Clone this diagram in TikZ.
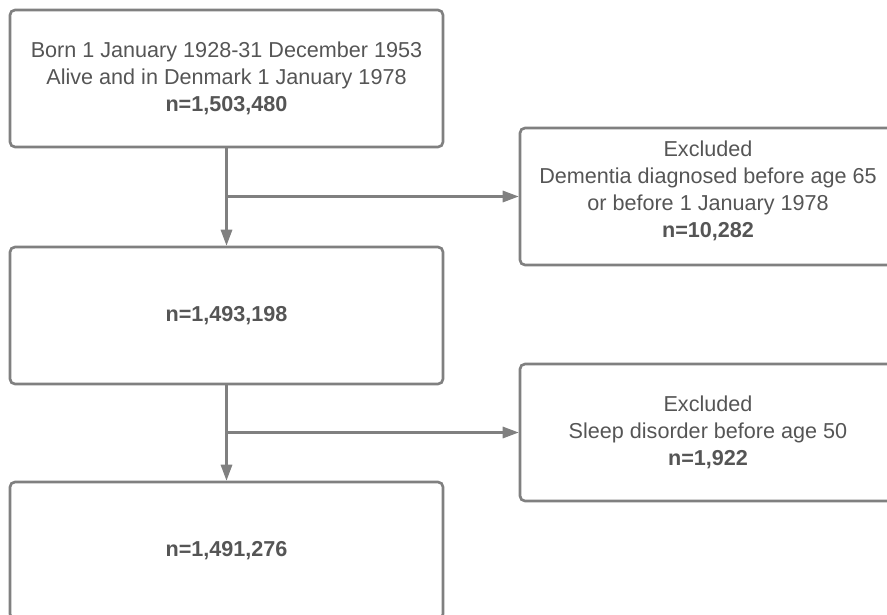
\documentclass[tikz,border=0pt]{standalone}
\usepackage{fontspec}
\setmainfont{Liberation Sans}
\usetikzlibrary{arrows.meta}
\definecolor{linegray}{HTML}{808080}
\definecolor{textgray}{HTML}{555555}
\tikzset{
  box/.style={draw=linegray, line width=2pt, rounded corners=3.75pt, minimum height=102.75pt, inner sep=0pt},
  leftbox/.style={box, minimum width=324.75pt},
  rightbox/.style={box, minimum width=282pt},
  txt/.style={text=textgray, align=center, font=\fontsize{16.2}{20.3}\selectfont},
  arr/.style={draw=linegray, line width=1.6pt, -{Triangle[length=12pt,width=8.5pt]}},
}
\begin{document}
\begin{tikzpicture}[x=0.75pt,y=-0.75pt]
\useasboundingbox (0,0) rectangle (887,614);
\clip (0,0) rectangle (887,614);
\node[leftbox, txt] (b1) at (226.5,78.5) {Born 1 January 1928-31 December 1953\\Alive and in Denmark 1 January 1978\\\textbf{n=1,503,480}};
\node[leftbox, txt] (b2) at (226.5,315.5) {\textbf{n=1,493,198}};
\node[leftbox, txt] (b3) at (226.5,550.5) {\textbf{n=1,491,276}};
\node[rightbox] (r1) at (708,196.5) {};
\node[txt] (r1t) at (708,190.5) {Excluded\\Dementia diagnosed before age 65\\or before 1 January 1978\\\textbf{n=10,282}};
\node[rightbox, txt] (r2) at (708,432.5) {Excluded\\Sleep disorder before age 50\\\textbf{n=1,922}};
\draw[arr] (b1.south) -- (b2.north);
\draw[arr] (b2.south) -- (b3.north);
\draw[arr] (b1.south |- r1.west) -- (r1.west);
\draw[arr] (b2.south |- r2.west) -- (r2.west);
\end{tikzpicture}
\end{document}
